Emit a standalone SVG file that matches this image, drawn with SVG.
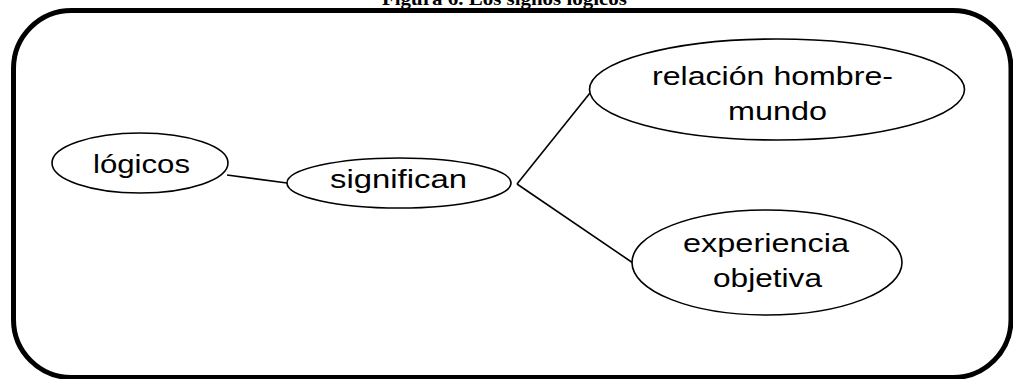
<svg xmlns="http://www.w3.org/2000/svg" width="1013" height="379" viewBox="0 0 1013 379">
<style>
.node ellipse{fill:#fff;stroke:#000;stroke-width:1.6}
.lbl{font-family:"Liberation Sans",Arial,sans-serif;font-size:25px;fill:#000}
.conn line{stroke:#000;stroke-width:1.6}
.title{font-family:"Liberation Serif","Times New Roman",serif;font-weight:bold;font-size:19px;fill:#000}
</style>
<rect width="1013" height="379" fill="#fff"/>
<text class="title" x="382" y="4.5" textLength="245" lengthAdjust="spacingAndGlyphs">Figura 6. Los signos lógicos</text>
<rect x="13.5" y="10.5" width="997.5" height="367" rx="58" ry="58" fill="none" stroke="#000" stroke-width="5"/>
<g class="conn" id="connectors">
<line x1="227" y1="175" x2="287" y2="183"/>
<line x1="517" y1="184" x2="590" y2="93"/>
<line x1="517" y1="184" x2="633" y2="263"/>
</g>
<g class="node" id="n-logicos">
<ellipse cx="140" cy="163" rx="88" ry="30"/>
<text class="lbl" x="93" y="173" textLength="97" lengthAdjust="spacingAndGlyphs">lógicos</text>
</g>
<g class="node" id="n-significan">
<ellipse cx="399" cy="183" rx="112" ry="25"/>
<text class="lbl" x="330" y="188" textLength="137" lengthAdjust="spacingAndGlyphs">significan</text>
</g>
<g class="node" id="n-relacion">
<ellipse cx="777" cy="89.5" rx="187.5" ry="50.5"/>
<text class="lbl" x="652" y="85" textLength="241" lengthAdjust="spacingAndGlyphs">relación hombre-</text>
<text class="lbl" x="728" y="120" textLength="99" lengthAdjust="spacingAndGlyphs">mundo</text>
</g>
<g class="node" id="n-experiencia">
<ellipse cx="767" cy="262.5" rx="135" ry="52.5"/>
<text class="lbl" x="683" y="252" textLength="166" lengthAdjust="spacingAndGlyphs">experiencia</text>
<text class="lbl" x="713" y="287" textLength="109" lengthAdjust="spacingAndGlyphs">objetiva</text>
</g>
</svg>
